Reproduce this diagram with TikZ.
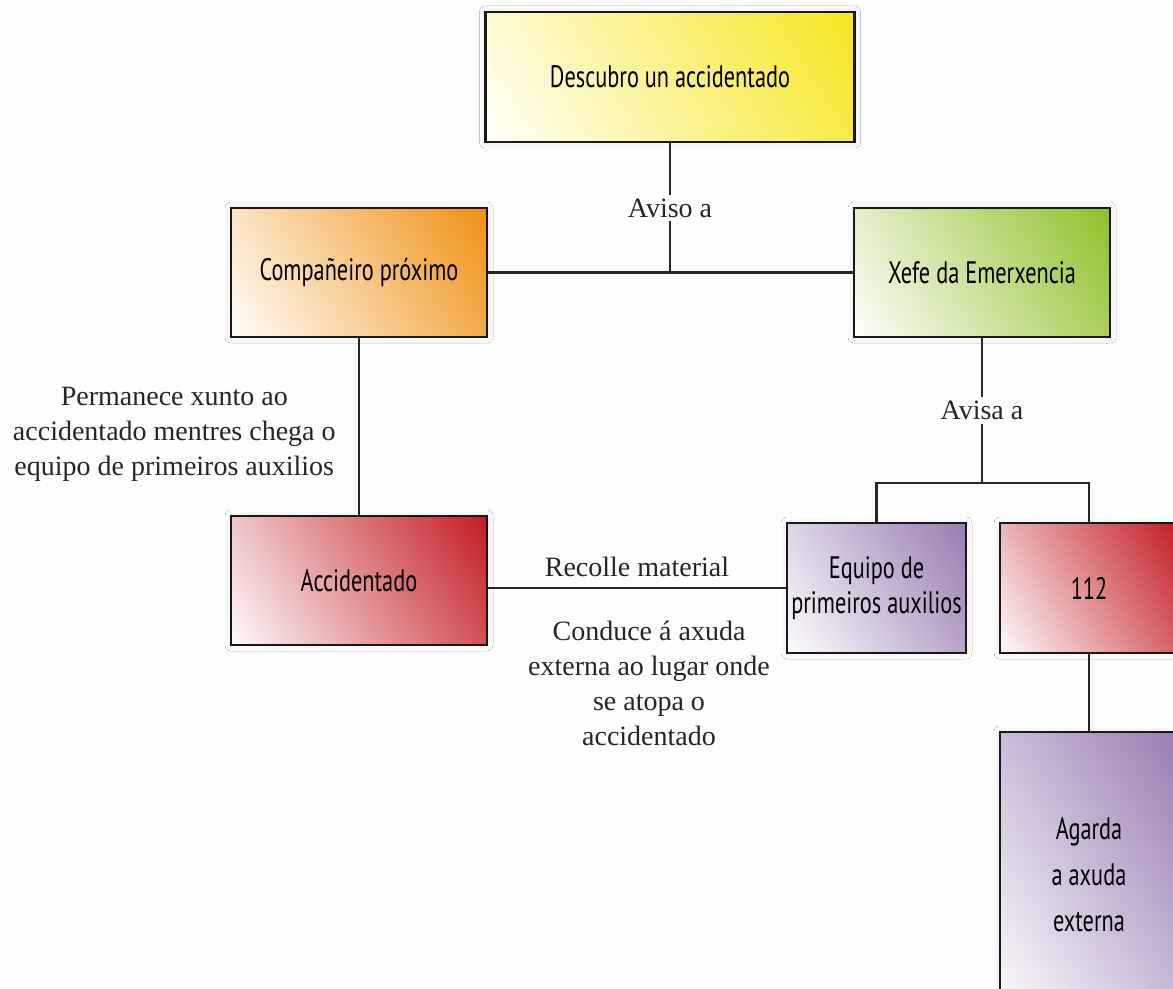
\documentclass[tikz,border=0pt]{standalone}
\usepackage{fontspec}
\setmainfont{Liberation Serif}
\newfontfamily\boxfont[FakeStretch=0.72]{PT Sans}
\usetikzlibrary{shadows.blur}

\definecolor{bgpage}{HTML}{FDFDFD}
\definecolor{boxyellow}{HTML}{F6E41A}
\definecolor{boxorange}{HTML}{EF8E0E}
\definecolor{boxgreen}{HTML}{8DBF24}
\definecolor{boxred}{HTML}{C2181F}
\definecolor{boxpurple}{HTML}{9679B1}
\colorlet{stagetint}{boxyellow}

\pgfdeclareverticalshading[stagetint]{stagefade}{100bp}{color(0bp)=(white); color(14bp)=(white); color(86bp)=(stagetint); color(100bp)=(stagetint)}

\tikzset{
  stage/.style={draw=black!90, line width=1.4pt, inner sep=0pt, align=center,
    font=\boxfont\fontsize{15.5}{17.5}\selectfont,
    /utils/exec={\colorlet{stagetint}{#1}}, shade, shading=stagefade, shading angle=-58,
    blur shadow={shadow xshift=0pt, shadow yshift=0pt, shadow blur radius=3pt, shadow opacity=10}},
  link/.style={line width=1.4pt, black!85},
  note/.style={font=\fontsize{14}{17.5}\selectfont, align=center, inner sep=2pt},
}

\begin{document}
\begin{tikzpicture}[x=0.5pt, y=-0.5pt]

\useasboundingbox (0,0) rectangle (1173,989);
\fill[bgpage] (0,0) rectangle (1173,989);

% boxes
\node[stage=boxyellow, minimum width=184.5pt, minimum height=65pt] (descubro) at (670,77) {Descubro un accidentado};
\node[stage=boxorange, minimum width=128pt, minimum height=64.5pt] (companeiro) at (359,272.5) {Compañeiro próximo};
\node[stage=boxgreen, minimum width=128pt, minimum height=64.5pt] (xefe) at (982,272.5) {Xefe da Emerxencia};
\node[stage=boxred, minimum width=128pt, minimum height=64.5pt] (accidentado) at (359,580.5) {Accidentado};
\node[stage=boxpurple, minimum width=89.5pt, minimum height=65pt] (equipo) at (876.5,588) {Equipo de\\primeiros auxilios};
\node[stage=boxred, minimum width=89pt, minimum height=65pt] (emerx) at (1089,588) {112};
\node[stage=boxpurple, minimum width=89pt, minimum height=143pt, font=\boxfont\fontsize{15.5}{23}\selectfont] (agarda) at (1089,875) {Agarda\\a axuda\\externa};

\coordinate (branch) at (983,483);

% connectors
\draw[link] (companeiro) -- (xefe);
\draw[link] (descubro.south) -- node[note, fill=bgpage] (aviso) {Aviso a} (descubro.south |- companeiro.east);
\draw[link] (xefe.south) -- node[note, fill=bgpage] (avisa) {Avisa a} (xefe.south |- branch);
\draw[link] (equipo.north) |- (emerx.north |- branch) -- (emerx.north);
\draw[link] (companeiro) -- node[note, left=9pt, yshift=-4pt] (permanece) {Permanece xunto ao\\accidentado mentres chega o\\equipo de primeiros auxilios} (accidentado);
\draw[link] (accidentado.east |- equipo.west) -- node[note, above=3pt] (recolle) {Recolle material}
  node[note, below=14pt, xshift=6pt] (conduce) {Conduce á axuda\\externa ao lugar onde\\se atopa o\\accidentado} (equipo.west);
\draw[link] (emerx) -- (agarda);

\end{tikzpicture}
\end{document}
